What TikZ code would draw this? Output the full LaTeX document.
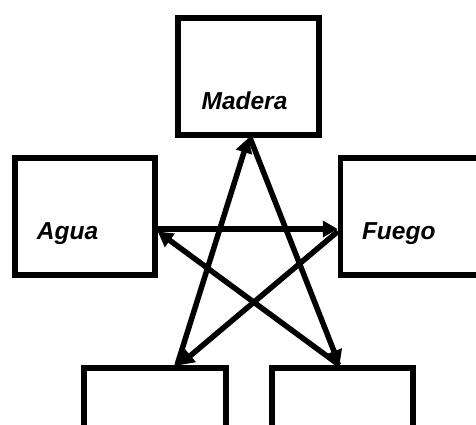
\documentclass[tikz,border=0pt]{standalone}
\usepackage{fontspec}
\setmainfont{Liberation Sans}
\usetikzlibrary{arrows.meta,calc}

\begin{document}
\begin{tikzpicture}[
  x=1bp,y=-1bp,
  line width=5.5bp,
  box/.style={draw,rectangle,minimum width=140bp,minimum height=117bp,inner sep=0pt},
  tag/.style={inner sep=0pt,font=\fontsize{24.5bp}{28bp}\selectfont\bfseries\itshape},
  ctrl/.style={-{Triangle[length=15bp,width=16bp]}}
]
\useasboundingbox (0,0) rectangle (476,424);
\clip (0,0) rectangle (476,424);

% ===== Elements =====
\node[box,minimum width=141bp] (madera) at (248.5,76.5) {};
\node[box] (agua) at (85,216.5) {};
\node[box] (fuego) at (410.5,216.5) {};
\node[box,minimum width=142bp] (metal) at (155,426.5) {};
\node[box,minimum width=141bp] (tierra) at (342.5,426.5) {};

% ===== Labels =====
\node[tag,anchor=base] (lmadera) at ($(madera.center)+(-4,32.5)$) {Madera};
\node[tag,anchor=base west] (lagua) at ($(agua.west)+(22,22.5)$) {Agua};
\node[tag,anchor=base west] (lfuego) at ($(fuego.west)+(21.5,22.5)$) {Fuego};

% ===== Control Cycle =====
\draw[ctrl] ([yshift=-12.5bp]agua.east) -- ([yshift=-12.5bp]fuego.west);
\draw[ctrl] ([yshift=-15bp]fuego.west) -- ([xshift=24bp]metal.north);
\draw[ctrl] ([xshift=22bp]metal.north) -- (madera.south);
\draw[ctrl] ([xshift=1.5bp]madera.south) -- ([xshift=-3bp]tierra.north);
\draw[ctrl] ([xshift=-3bp]tierra.north) -- ([yshift=-15bp]agua.east);

\end{tikzpicture}
\end{document}
